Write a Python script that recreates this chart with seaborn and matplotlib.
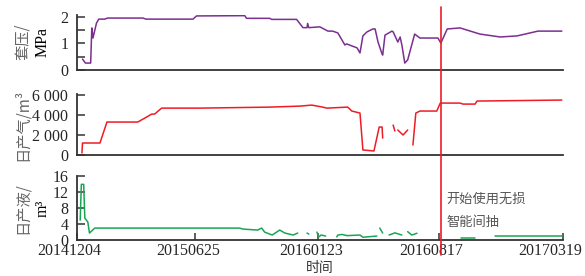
import pandas as pd
import seaborn as sns
import matplotlib.pyplot as plt
import matplotlib.dates as mdates
import matplotlib.transforms as mtransforms
from matplotlib.ticker import FixedLocator

# time axis: days counted from the first record
start = pd.Timestamp("2014-12-04")
end = pd.Timestamp("2017-03-19")
event_day = 626  # start of intermittent pumping
tick_dates = ["20141204", "20150625", "20160123", "20160817", "20170319"]

# casing pressure, MPa
casing_days = [10, 15, 24, 26, 28, 34, 38, 48, 53, 114, 119, 200, 206, 289, 292, 332,
               335, 378, 389, 396, 397, 399, 418, 432, 440, 449, 461, 464, 482, 487,
               492, 499, 509, 513, 518, 525, 526, 530, 542, 544, 552, 556, 559, 564,
               569, 581, 590, 621, 626, 637, 659, 693, 728, 757, 793, 834]
casing_mpa = [0.41, 0.26, 0.26, 1.58, 1.20, 1.76, 1.91, 1.91, 1.95, 1.95, 1.91, 1.91,
              2.03, 2.04, 1.94, 1.94, 1.90, 1.90, 1.59, 1.59, 1.75, 1.59, 1.62, 1.46,
              1.46, 1.39, 0.94, 0.98, 0.83, 0.64, 1.28, 1.43, 1.54, 1.54, 1.05, 0.60,
              0.56, 1.31, 1.46, 1.43, 1.05, 1.24, 0.94, 0.26, 0.38, 1.35, 1.20, 1.20,
              1.01, 1.54, 1.58, 1.35, 1.24, 1.28, 1.46, 1.46]

# daily gas, m3 (segments separated by missing records)
gas_days = [9, 10, 40, 52, 105, 120, 129, 134, 146, 212, 332, 384, 404, 423, 430, 466,
            473, 487, 492, 511, 520, 525, 526,
            544, 547,
            552, 561, 569,
            578, 583, 590, 619, 625, 659, 664, 685, 688, 834]
gas_m3 = [200, 1190, 1190, 3270, 3270, 3760, 4060, 4060, 4650, 4650, 4750, 4850, 4950,
          4750, 4650, 4750, 4360, 4160, 500, 400, 2770, 2770, 1680,
          2970, 2380,
          2480, 1980, 2480,
          990, 4160, 4360, 4360, 5150, 5150, 5050, 5050, 5350, 5450]
gas_seg = [0] * 23 + [1] * 2 + [2] * 3 + [3] * 10

# daily liquid, m3
liquid_days = [6, 8, 12, 14, 18, 19, 22, 31, 280, 286, 311, 318, 323, 336, 349, 358, 372, 380,
               396, 399,
               413, 416, 420, 428,
               447, 449, 456, 465, 487, 492, 516,
               521, 526,
               537, 547, 559,
               569, 576, 585,
               661, 685,
               719, 834]
liquid_m3 = [5, 14, 14, 5.5, 4.75, 4.6, 1.75, 3.0, 3.0, 2.75, 2.5, 3.0, 2.0, 1.25, 2.5,
             1.75, 1.25, 1.75,
             1.75, 1.5,
             2.0, 0.75, 1.25, 1.0,
             0.8, 1.25, 1.4, 1.1, 1.25, 0.7, 1.0,
             3.0, 1.75,
             1.25, 1.8, 1.25,
             2.1, 1.25, 1.7,
             0.6, 0.6,
             1.1, 1.1]
liquid_seg = ([0] * 18 + [1] * 2 + [2] * 4 + [3] * 7 + [4] * 2 + [5] * 3 + [6] * 3
              + [7] * 2 + [8] * 2)

sns.set_style("white")
plt.rcParams["font.family"] = ["Liberation Serif", "Noto Sans CJK SC", "DejaVu Sans"]


def to_dates(days):
    return start + pd.to_timedelta(days, unit="D")


casing = pd.DataFrame({"date": to_dates(casing_days), "val": casing_mpa, "seg": 0})
gas = pd.DataFrame({"date": to_dates(gas_days), "val": gas_m3, "seg": gas_seg})
liquid = pd.DataFrame({"date": to_dates(liquid_days), "val": liquid_m3, "seg": liquid_seg})

fig = plt.figure(figsize=(5.85, 2.76), dpi=100)
left, width = 0.1311, 0.8313
ax1 = fig.add_axes([left, 0.7464, width, 0.2007])
ax2 = fig.add_axes([left, 0.4384, width, 0.2210])
ax3 = fig.add_axes([left, 0.1304, width, 0.2319])

panels = [
    (ax1, casing, "#7b2f8f", (0, 2.08)),
    (ax2, gas, "#ee1c25", (0, 6050)),
    (ax3, liquid, "#1aa555", (0, 16.1)),
]
for ax, df, color, ylim in panels:
    sns.lineplot(data=df, x="date", y="val", units="seg", estimator=None,
                 color=color, lw=1.1, ax=ax)
    ax.set_xlim(start, end)
    ax.set_ylim(*ylim)
    ax.set_xlabel("")
    ax.set_ylabel("")
    for s in ["top", "right"]:
        ax.spines[s].set_visible(False)
    for s in ["left", "bottom"]:
        ax.spines[s].set_color("#333333")
        ax.spines[s].set_linewidth(1.3)
    ax.tick_params(axis="y", which="both", left=True, direction="in", length=5.5,
                   width=1.1, color="#333333", labelsize=11.5, pad=6)
    ax.patch.set_alpha(0)

ax1.yaxis.set_major_locator(FixedLocator([0, 1, 2]))
ax1.yaxis.set_minor_locator(FixedLocator([0.5, 1.5]))
ax2.yaxis.set_major_locator(FixedLocator([0, 2000, 4000, 6000]))
ax2.set_yticklabels(["0", "2 000", "4 000", "6 000"])
ax3.yaxis.set_major_locator(FixedLocator([0, 4, 8, 12, 16]))

for ax in (ax1, ax2):
    ax.set_xticks([])

ticks = pd.to_datetime(tick_dates, format="%Y%m%d")
ax3.set_xticks(ticks)
ax3.set_xticklabels(tick_dates)
ax3.tick_params(axis="x", bottom=True, direction="in", length=5, width=1.1,
                color="#333333", labelsize=11.5, pad=2)
labels = ax3.get_xticklabels()
for i, lab in enumerate(labels):
    shift = -13 if i == len(labels) - 1 else -7
    lab.set_transform(lab.get_transform()
                      + mtransforms.ScaledTranslation(shift / 100, 0, fig.dpi_scale_trans))

# event line crossing all three panels
ev = start + pd.Timedelta(days=event_day)
ev_num = mdates.date2num(ev)
trans = mtransforms.blended_transform_factory(ax3.transData, fig.transFigure)
fig.add_artist(plt.Line2D([ev_num, ev_num], [0.975, 0.076], transform=trans,
                          color="#ee1c25", lw=1.2))

txt_x = start + pd.Timedelta(days=event_day + 9)
ax3.text(txt_x, 10.2, "开始使用无损", fontsize=9.5, color="#555555",
         family=["Noto Sans CJK SC"], va="center", ha="left")
ax3.text(txt_x, 4.4, "智能间抽", fontsize=9.5, color="#555555",
         family=["Noto Sans CJK SC"], va="center", ha="left")

# axis titles
cjk = ["Noto Sans CJK SC", "DejaVu Sans"]
fig.text(0.038, 1 - 42 / 276, "套压/", rotation=90, fontsize=11, color="#666666",
         family=cjk, ha="center", va="center")
fig.text(0.073, 1 - 42 / 276, "MPa", rotation=90, fontsize=11.5, color="black",
         ha="center", va="center")
fig.text(0.038, 1 - 125 / 276, "日产气/m³", rotation=90, fontsize=11, color="#666666",
         family=cjk, ha="center", va="center")
fig.text(0.038, 1 - 208 / 276, "日产液/", rotation=90, fontsize=11, color="#666666",
         family=cjk, ha="center", va="center")
fig.text(0.073, 1 - 208 / 276, "m³", rotation=90, fontsize=11.5, color="black",
         ha="center", va="center")
fig.text(0.547, 1 - 268 / 276, "时间", fontsize=10, color="#333333",
         family=cjk, ha="center", va="center")

plt.savefig("out.png", dpi=100)
